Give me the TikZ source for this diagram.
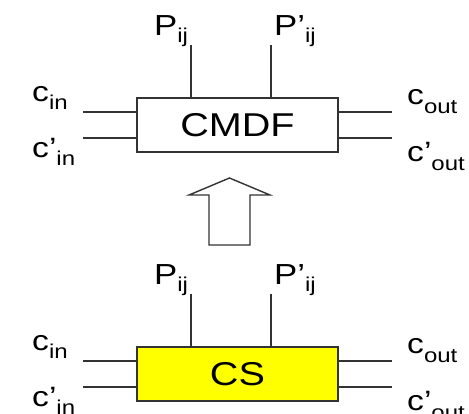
\documentclass[tikz,border=0pt]{standalone}
\usepackage{fontspec}
\setmainfont{Liberation Sans}[FakeStretch=1.2]
\newcommand{\lsub}[2]{\raisebox{-#1pt}{\fontsize{20}{20}\selectfont #2}}
\definecolor{linegray}{HTML}{333333}
\definecolor{boxyellow}{HTML}{FFFF00}
\tikzset{
  box/.style={draw=linegray, line width=1.4pt, inner sep=0pt,
    minimum width=201pt, minimum height=54pt,
    font=\fontsize{33}{33}\selectfont},
  wire/.style={draw=linegray, line width=1.4pt},
  lab/.style={anchor=base west, inner sep=0pt, font=\fontsize{28}{28}\selectfont},
  plab/.style={anchor=base west, inner sep=0pt, font=\fontsize{29}{29}\selectfont},
}
\begin{document}
\begin{tikzpicture}[x=1pt,y=-1pt]
\useasboundingbox (0,0) rectangle (469,413);
% ---------- top block ----------
\node[box, fill=white] (cmdf) at (237.5,125) {CMDF};
\coordinate (tp1) at (191,45);
\coordinate (tp2) at (271,45);
\coordinate (tcin) at (83,112);
\coordinate (tcpin) at (83,138);
\coordinate (tcout) at (392,112);
\coordinate (tcpout) at (392,138);
\draw[wire] (tp1) -- (tp1 |- cmdf.north);
\draw[wire] (tp2) -- (tp2 |- cmdf.north);
\draw[wire] (tcin) -- (tcin -| cmdf.west);
\draw[wire] (tcpin) -- (tcpin -| cmdf.west);
\draw[wire] (tcout) -- (tcout -| cmdf.east);
\draw[wire] (tcpout) -- (tcpout -| cmdf.east);
\node[plab] (tP) at (154,35) {P\lsub{7}{ij}};
\node[plab] (tPp) at (274,35) {P’\lsub{7}{ij}};
\node[lab] (tlcin) at (32,101) {c\lsub{8}{in}};
\node[lab] (tlcpin) at (32,157) {c’\lsub{8}{in}};
\node[lab] (tlcout) at (407,104) {c\lsub{9}{out}};
\node[lab] (tlcpout) at (407,161) {c’\lsub{9}{out}};
% ---------- block arrow ----------
\draw[draw=linegray, line width=1.4pt, fill=white]
  (229.5,178) -- (270,195) -- (250,195) -- (250,245) -- (209,245)
  -- (209,195) -- (189,195) -- cycle;
% ---------- bottom block ----------
\node[box, fill=boxyellow] (cs) at (237.5,374) {CS};
\coordinate (bp1) at (191,294);
\coordinate (bp2) at (271,294);
\coordinate (bcin) at (83,361);
\coordinate (bcpin) at (83,387);
\coordinate (bcout) at (392,361);
\coordinate (bcpout) at (392,387);
\draw[wire] (bp1) -- (bp1 |- cs.north);
\draw[wire] (bp2) -- (bp2 |- cs.north);
\draw[wire] (bcin) -- (bcin -| cs.west);
\draw[wire] (bcpin) -- (bcpin -| cs.west);
\draw[wire] (bcout) -- (bcout -| cs.east);
\draw[wire] (bcpout) -- (bcpout -| cs.east);
\node[plab] (bP) at (154,284) {P\lsub{7}{ij}};
\node[plab] (bPp) at (274,284) {P’\lsub{7}{ij}};
\node[lab] (blcin) at (32,350) {c\lsub{8}{in}};
\node[lab] (blcpin) at (32,406) {c’\lsub{8}{in}};
\node[lab] (blcout) at (407,353) {c\lsub{9}{out}};
\node[lab] (blcpout) at (407,410) {c’\lsub{9}{out}};
\end{tikzpicture}
\end{document}
